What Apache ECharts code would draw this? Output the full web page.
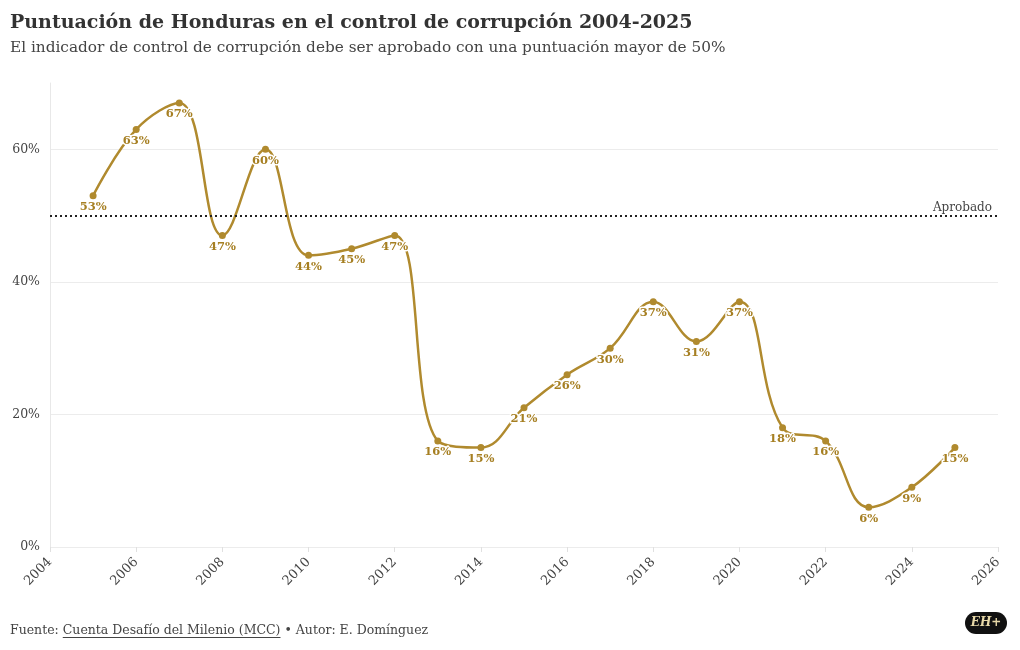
<!DOCTYPE html>
<html><head><meta charset="utf-8">
<script src="https://cdn.jsdelivr.net/npm/echarts@6/dist/echarts.min.js"></script>
<style>html,body{margin:0;padding:0;background:#fff}#c{width:1020px;height:650px}</style>
</head><body><div id="c"></div>
<script>
const years = [2005,2006,2007,2008,2009,2010,2011,2012,2013,2014,2015,2016,2017,2018,2019,2020,2021,2022,2023,2024,2025];
const scores = [53,63,67,47,60,44,45,47,16,15,21,26,30,37,31,37,18,16,6,9,15];
const yTicks = [0,20,40,60];
const threshold = 50;
const thresholdLabel = 'Aprobado';
const titleText = 'Puntuación de Honduras en el control de corrupción 2004-2025';
const subtitleText = 'El indicador de control de corrupción debe ser aprobado con una puntuación mayor de 50%';
const srcPrefix = 'Fuente: ';
const srcLink = 'Cuenta Desafío del Milenio (MCC)';
const srcSuffix = ' • Autor: E. Domínguez';
const FONT = 'DejaVu Serif';
const FS_FOOT = 12.5;
const mctx = document.createElement('canvas').getContext('2d');
mctx.font = FS_FOOT + 'px "' + FONT + '"';
const wPre = mctx.measureText(srcPrefix).width;
const wLink = mctx.measureText(srcLink).width;
const chart = echarts.init(document.getElementById('c'), null, {renderer:'canvas'});
chart.setOption({
  backgroundColor:'#fff',
  animation:false,
  title:[
    {text:titleText, left:5, top:9, textStyle:{fontFamily:FONT, fontWeight:'bold', fontSize:19, color:'#333'}},
    {text:subtitleText, left:5, top:36, textStyle:{fontFamily:FONT, fontWeight:'normal', fontSize:15.3, color:'#444'}}
  ],
  graphic:[
    {type:'text', left:10, top:624, style:{text:srcPrefix+srcLink+srcSuffix, font:FS_FOOT+'px "'+FONT+'"', fill:'#444'}},
    {type:'line', shape:{x1:10+wPre, y1:637.5, x2:10+wPre+wLink, y2:637.5}, style:{stroke:'#444', lineWidth:1}},
    {type:'group', right:13, top:612, children:[
      {type:'rect', shape:{x:0,y:0,width:42,height:22,r:11}, style:{fill:'#111'}},
      {type:'text', style:{x:21,y:11,text:'EH+',fill:'#e8d9a8',font:'italic bold 12px "DejaVu Serif"',align:'center',verticalAlign:'middle'}}
    ]}
  ],
  grid:{left:50, right:22, top:83, bottom:103},
  xAxis:{type:'value', min:2004, max:2026, interval:2,
    axisLine:{show:false}, splitLine:{show:false},
    axisTick:{show:true, length:5, lineStyle:{color:'#e0e0e0'}},
    axisLabel:{rotate:45, fontFamily:FONT, fontSize:13, color:'#444', margin:13, formatter:v=>String(v)}},
  yAxis:{type:'value', min:0, max:70, interval:20,
    axisLine:{show:true, lineStyle:{color:'#e8e8e8'}}, axisTick:{show:false},
    splitLine:{showMaxLine:false, lineStyle:{color:'#ececec'}},
    axisLabel:{showMaxLabel:false, fontFamily:FONT, fontSize:12.5, color:'#444', margin:10, formatter:v=>yTicks.includes(v)?v+'%':''}},
  series:[{
    type:'line', data:years.map((y,i)=>[y,scores[i]]), smooth:0.4,
    symbol:'circle', symbolSize:7,
    lineStyle:{color:'#B08A2E', width:2.5}, itemStyle:{color:'#B08A2E'},
    label:{show:true, position:'bottom', distance:2, formatter:p=>p.value[1]+'%',
      fontFamily:FONT, fontWeight:'bold', fontSize:11.5, color:'#A67F22', textBorderColor:'#fff', textBorderWidth:3},
    markLine:{silent:true, symbol:'none', data:[{yAxis:threshold}],
      lineStyle:{color:'#222', type:[2,3], width:2},
      label:{show:true, position:'insideEndTop', formatter:thresholdLabel, fontFamily:FONT, fontSize:12, color:'#444', distance:[6,2]}}
  }]
});
</script></body></html>
